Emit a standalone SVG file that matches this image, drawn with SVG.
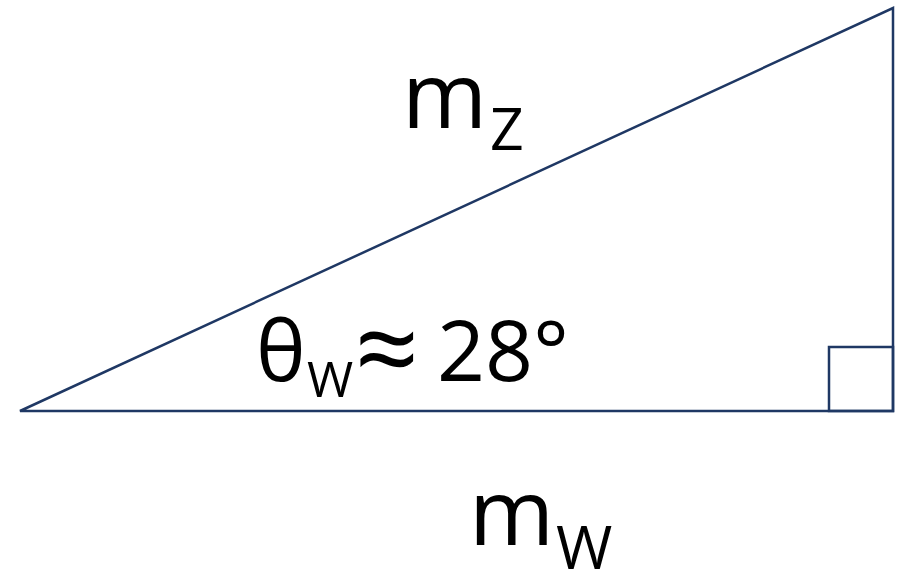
<svg xmlns="http://www.w3.org/2000/svg" width="899" height="574" viewBox="0 0 899 574">
<style>
.ln{fill:none;stroke:#1f3864;stroke-width:2.5;stroke-linejoin:miter}
.t{font-family:"Open Sans","Liberation Sans",sans-serif;fill:#000}
</style>
<rect width="899" height="574" fill="#fff"/>
<g id="connectors">
<polygon class="ln" points="20,411 893,411 893,8"/>
<rect class="ln" x="829" y="347" width="64" height="64"/>
</g>
<g id="label-mz">
<text class="t" x="402" y="128" font-size="92">m</text>
<text class="t" x="490" y="150" font-size="59">Z</text>
</g>
<g id="label-theta">
<text class="t" x="256" y="381" font-size="84">θ</text>
<text class="t" x="307" y="397" font-size="50">W</text>
<text class="t" x="355" y="389" font-size="112">≈</text>
<text class="t" x="437" y="381" font-size="84">28°</text>
</g>
<g id="label-mw">
<text class="t" x="469" y="545" font-size="92">m</text>
<text class="t" x="556" y="569" font-size="61">W</text>
</g>
</svg>
